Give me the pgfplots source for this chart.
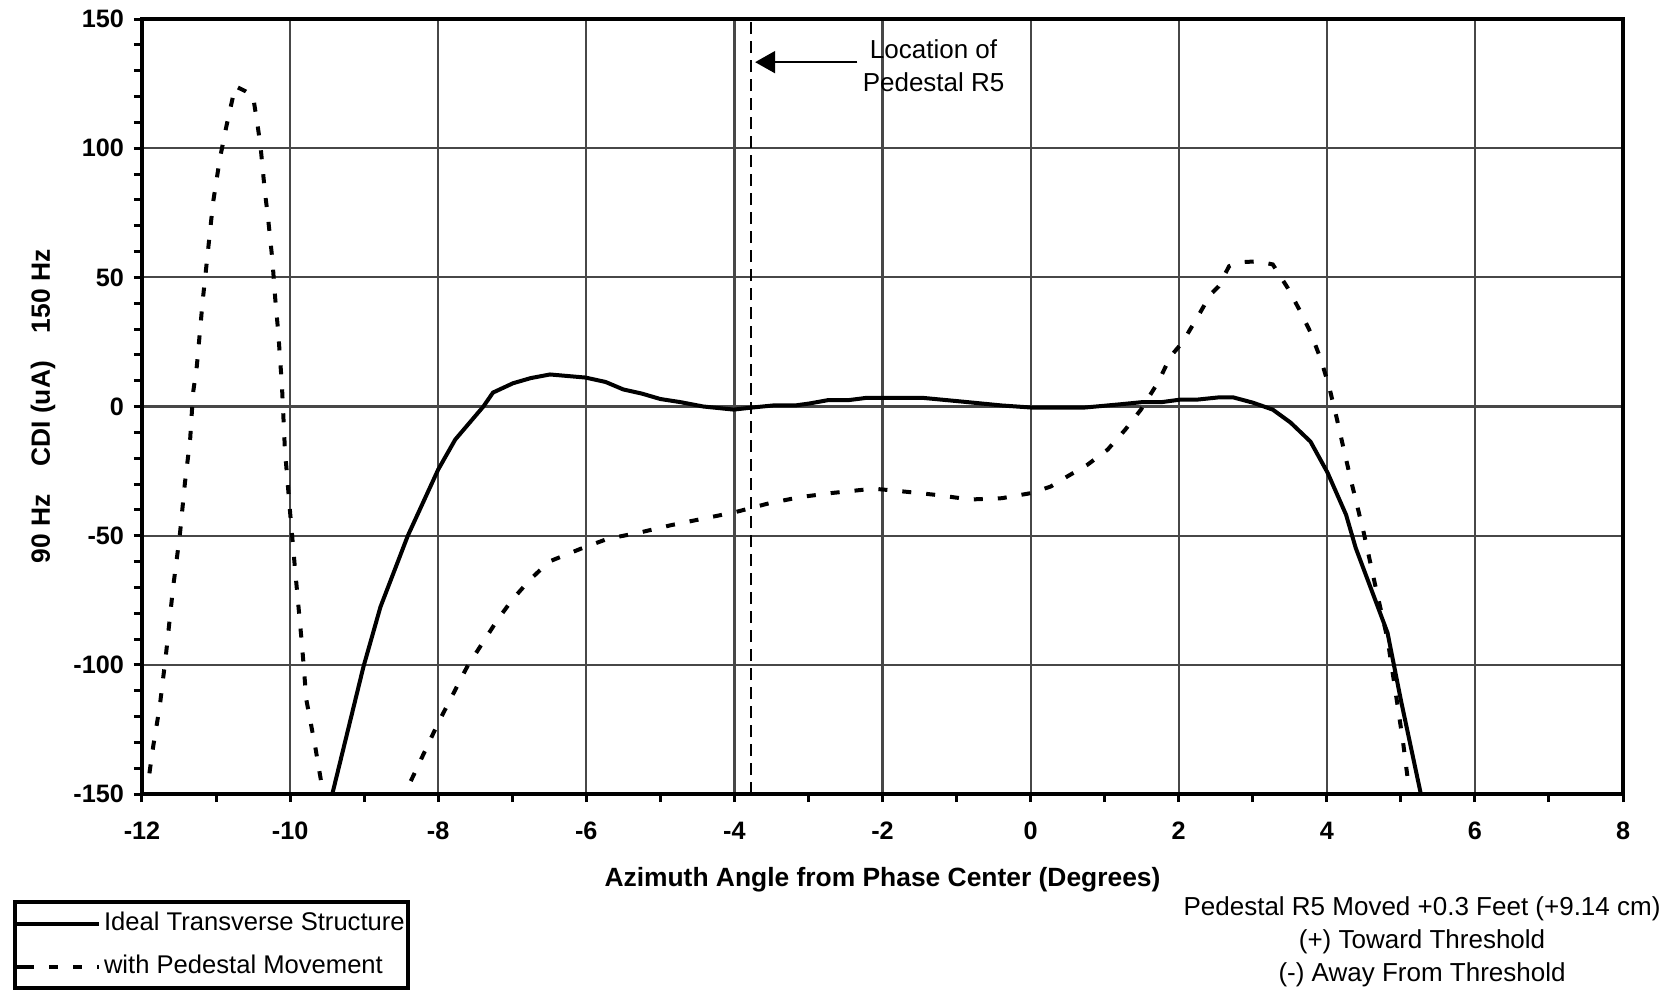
\documentclass[border=0pt]{standalone}
\usepackage{fontspec}
\setmainfont{Liberation Sans}
\usepackage{pgfplots}
\pgfplotsset{compat=1.18}
\usetikzlibrary{arrows.meta}

\begin{document}
\begin{tikzpicture}
\path[use as bounding box] (-71pt,-99pt) rectangle (764.5pt,397pt);
\begin{axis}[
    scale only axis,
    width=740.5pt,
    height=387.5pt,
    xmin=-12, xmax=8,
    ymin=-150, ymax=150,
    xtick={-12,-10,...,8},
    ytick={-150,-100,...,150},
    minor xtick={-11,-9,...,7},
    minor ytick={-140,-130,...,140},
    xtick pos=bottom, ytick pos=left,
    tick align=outside,
    major tick length=4pt, minor tick length=4pt,
    tick style={line width=1.5pt, black},
    grid=major,
    major grid style={line width=1.1pt, color=black!72},
    axis line style={line width=2pt},
    clip mode=individual,
    /pgf/number format/assume math mode=true,
    ticklabel style={font=\bfseries\fontsize{12.6}{14}\selectfont},
    xticklabel style={yshift=-6.5pt},
    yticklabel style={xshift=-1.5pt},
    xlabel={Azimuth Angle from Phase Center (Degrees)},
    ylabel={90 Hz\hspace{14pt}CDI (uA)\hspace{14pt}150 Hz},
    label style={font=\bfseries\fontsize{13.2}{15}\selectfont},
    xlabel style={at={(axis description cs:0.5,-0.111)}, anchor=center},
    ylabel style={at={(axis description cs:-0.0668,0.5)}, anchor=center},
    unbounded coords=jump,
    legend image code/.code={\path (0pt,0pt) -- (4pt,0pt);\draw[#1] (4pt,0pt) -- (41pt,0pt);},
    legend style={
        at={(axis description cs:-0.0871,-0.1368)},
        anchor=north west,
        draw=black, line width=2pt,
        inner sep=0pt,
        font=\fontsize{12.8}{15}\selectfont,
        nodes={inner xsep=1.5pt, inner ysep=4.5pt, text height=9.5pt, text depth=3pt},
    },
    legend cell align=left,
]

% ideal transverse structure
\addplot[black, line width=2pt] coordinates {
    (-9.43,-150) (-9.01,-100.8) (-8.78,-77.6) (-8.41,-50) (-8.0,-24.4)
    (-7.77,-12.8) (-7.39,0) (-7.26,5.4) (-6.99,9) (-6.75,11) (-6.49,12.4)
    (-6.01,11.2) (-5.74,9.5) (-5.5,6.6) (-5.25,5) (-5.0,2.9) (-4.73,1.7)
    (-4.42,0) (-4.01,-1.2) (-3.76,-0.4) (-3.48,0.4) (-3.18,0.4) (-2.98,1.2)
    (-2.73,2.5) (-2.45,2.5) (-2.23,3.3) (-1.68,3.3) (-1.44,3.3) (-0.96,2)
    (-0.39,0.4) (0.01,-0.4) (0.73,-0.4) (1.19,0.8) (1.51,1.7) (1.77,1.7)
    (2.03,2.7) (2.26,2.7) (2.53,3.5) (2.74,3.5) (3.0,1.5) (3.27,-1.2)
    (3.51,-6.2) (3.78,-13.6) (4.01,-25.6) (4.26,-41.9) (4.39,-54.7)
    (4.82,-87.6) (5.0,-113.6) (5.27,-150)
};
\addlegendentry{Ideal Transverse Structure}

% with pedestal movement
\addplot[black, line width=2pt, dash pattern=on 4.5pt off 7.5pt] coordinates {
    (-11.9,-142) (-11.85,-131.8) (-11.76,-116) (-11.68,-97) (-11.58,-70)
    (-11.49,-50) (-11.42,-29.5) (-11.35,-12.8) (-11.31,5.4) (-11.26,15.5)
    (-11.18,41) (-11.04,79) (-10.95,95.7) (-10.86,108.5) (-10.74,124)
    (-10.6,122) (-10.5,120) (-10.45,111) (-10.4,101) (-10.34,83) (-10.3,73.6)
    (-10.24,57) (-10.2,41.5) (-10.16,28.7) (-10.11,8) (-10.07,-16.7)
    (-10.0,-41) (-9.93,-64) (-9.84,-92) (-9.78,-113.6) (-9.66,-131.8)
    (-9.57,-147) (-9.5,-155)
    (-9.0,nan)
    (-8.37,-145) (-8.0,-122.5) (-7.61,-100.8) (-7.2,-82.6) (-7.0,-74.8)
    (-6.76,-67) (-6.5,-60) (-6.07,-55) (-5.71,-51.2) (-5.28,-48.8)
    (-4.85,-45.9) (-4.42,-43.4) (-3.99,-40.9) (-3.55,-37.6) (-3.12,-35.1)
    (-2.69,-33.5) (-2.12,-31.8) (-1.68,-33) (-1.25,-34.3) (-0.82,-36)
    (-0.39,-35.5) (0.01,-33.5) (0.27,-31) (0.5,-27) (0.77,-22.5)
    (1.04,-16.7) (1.28,-8.9) (1.49,-1.2) (1.72,9.3) (1.89,19.4) (2.05,24.8)
    (2.26,34.9) (2.43,43.4) (2.54,46.5) (2.68,54.3) (2.8,55.8) (3.07,56.2)
    (3.27,55) (3.47,46) (3.65,36.4) (3.78,28.7) (3.92,18.2) (4.03,7.8)
    (4.13,-4) (4.23,-16.7) (4.33,-29) (4.5,-49) (4.66,-70) (4.82,-90)
    (4.91,-107) (5.03,-130) (5.11,-148)
};
\addlegendentry{with Pedestal Movement}

% location of pedestal R5
\addplot[black, line width=1pt, dash pattern=on 6pt off 3.5pt, forget plot]
    coordinates {(-3.77,-150) (-3.77,150)};

\draw[black, line width=1pt, -{Triangle[length=10pt,width=11pt]}]
    (axis cs:-2.34,133.3) -- (axis cs:-3.72,133.3);
\node[align=center, font=\fontsize{13}{16.5}\selectfont]
    at (axis cs:-1.31,131.8) {Location of\\Pedestal R5};

\node[align=center, font=\fontsize{13}{16.5}\selectfont]
    at (axis description cs:0.8643,-0.191)
    {Pedestal R5 Moved +0.3 Feet (+9.14 cm)\\(+) Toward Threshold\\(-) Away From Threshold};
\end{axis}
\end{tikzpicture}
\end{document}
